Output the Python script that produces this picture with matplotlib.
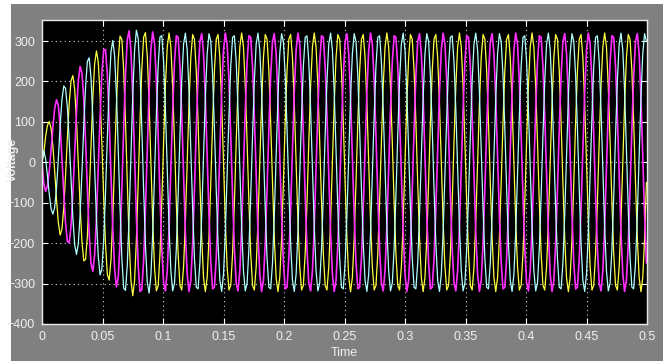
import numpy as np
import matplotlib
matplotlib.use("Agg")
import matplotlib.pyplot as plt
from matplotlib.patches import Rectangle

# Signal parameters
freq_hz = 50.0
t_end = 0.5
sample_step = 1.5e-3
phase_shifts_deg = [0, -120, 120]
phase_colors = ["#ffff40", "#ff30ff", "#b0ffff"]
phase_widths = [0.9, 1.2, 0.9]

# Amplitude envelope (time, peak voltage)
env_t = [0.0, 0.002, 0.007, 0.015, 0.018, 0.029, 0.034, 0.040, 0.050, 0.060, 0.067, 0.075, 0.085, 0.100, 0.5]
env_v = [0.0, 70, 115, 180, 190, 230, 245, 268, 283, 305, 322, 330, 325, 320, 320]

x_ticks = [0, 0.05, 0.1, 0.15, 0.2, 0.25, 0.3, 0.35, 0.4, 0.45, 0.5]
x_tick_labels = ["0", "0.05", "0.1", "0.15", "0.2", "0.25", "0.3", "0.35", "0.4", "0.45", "0.5"]
y_ticks = [-400, -300, -200, -100, 0, 100, 200, 300]

plt.rcParams["font.family"] = ["Liberation Sans", "DejaVu Sans"]

W, H = 669, 361
fig = plt.figure(figsize=(W / 100, H / 100), dpi=100, facecolor="white")

# grey scope window behind everything
bg = fig.add_axes([0, 0, 1, 1], zorder=-1)
bg.axis("off")
bg.set_xlim(0, W)
bg.set_ylim(H, 0)
bg.add_patch(Rectangle((11, 4), 652, 357, facecolor="#808080", edgecolor="none"))

ax = fig.add_axes([42 / W, 1 - 324 / H, 605 / W, 304 / H], zorder=1)
ax.set_facecolor("black")

t = np.arange(0, t_end + sample_step / 2, sample_step)
amp = np.interp(t, env_t, env_v)
for shift, col, lw in zip(phase_shifts_deg, phase_colors, phase_widths):
    v = amp * np.sin(2 * np.pi * freq_hz * t + np.deg2rad(shift))
    ax.plot(t, v, color=col, lw=lw)

ax.set_xlim(0, 0.5)
ax.set_ylim(-400, 352)
ax.set_xticks(x_ticks)
ax.set_xticklabels(x_tick_labels)
ax.set_yticks(y_ticks)
ax.grid(True, color="#d0d0d0", linestyle=(0, (1, 3)), linewidth=0.8)
ax.tick_params(direction="in", length=4, color="white", top=True, right=True,
               labelcolor="#f0f0f0", labelsize=9, pad=5)
for s in ax.spines.values():
    s.set_color("#e8e8e8")
    s.set_linewidth(1.0)

ax.set_xlabel("Time", color="#f0f0f0", fontsize=9, labelpad=3)
ax.set_ylabel("Voltage", color="#f0f0f0", fontsize=9, fontweight="bold")
ax.yaxis.set_label_coords(-0.038, 0.54)

fig.savefig("out.png", dpi=100, facecolor="white")
